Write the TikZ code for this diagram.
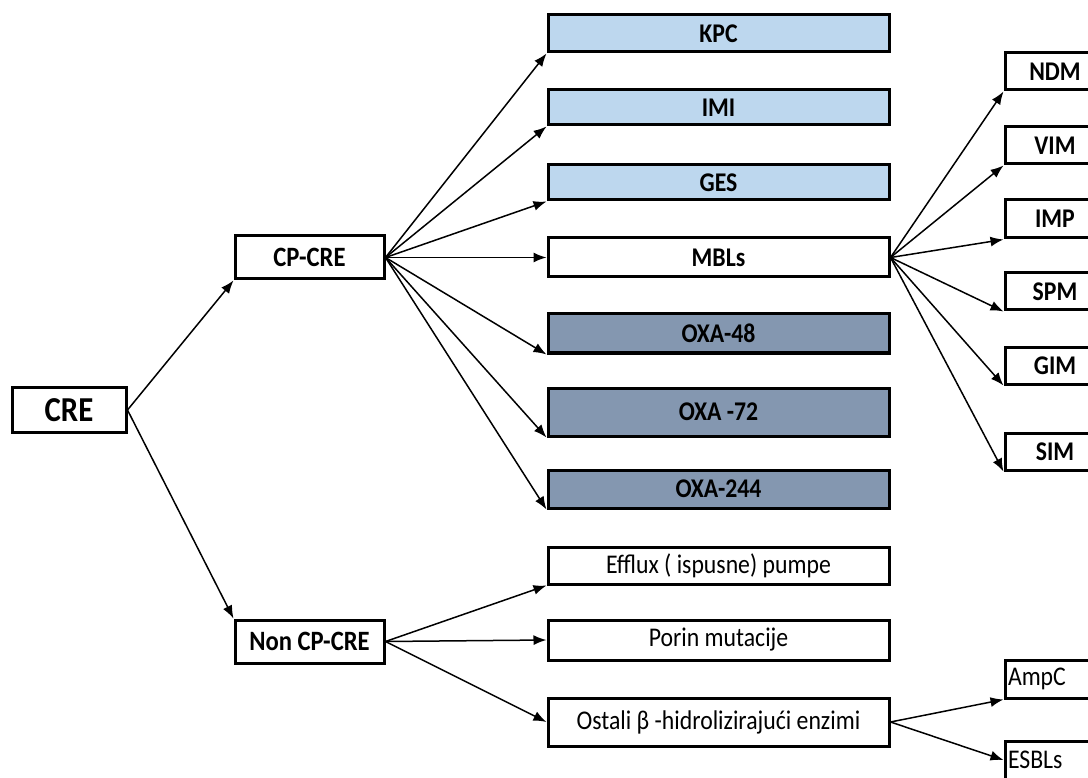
\documentclass[tikz,border=0pt]{standalone}
\usepackage{fontspec}
\setmainfont{Carlito}[FakeStretch=0.88]
\usetikzlibrary{arrows.meta}
\definecolor{lblue}{HTML}{BDD7EE}
\definecolor{dblue}{HTML}{8497B0}
\tikzset{
  box/.style={draw=black, line width=3pt, fill=white, inner sep=0pt, font=\fontsize{27}{29}\selectfont},
  hbox/.style={box, font=\bfseries\fontsize{27}{29}\selectfont},
  mid/.style={minimum width=341pt},
  rgt/.style={minimum width=100pt},
  conn/.style={line width=1.5pt, -{Latex[length=13pt,width=10pt]}},
}
\begin{document}
\begin{tikzpicture}[x=1pt,y=-1pt]
\useasboundingbox (0,0) rectangle (1088,778);
\begin{scope}
\clip (0,0) rectangle (1088,778);
% left
\node[hbox, minimum width=114pt, minimum height=45pt, font=\bfseries\fontsize{35}{37}\selectfont] (cre) at (69,410) {CRE};
\node[hbox, minimum width=149pt, minimum height=43pt, font=\bfseries\fontsize{28}{30}\selectfont] (cp) at (309.5,257.5) {CP-CRE};
\node[hbox, minimum width=149pt, minimum height=43pt, font=\bfseries\fontsize{28}{30}\selectfont] (non) at (309.5,641.5) {Non CP-CRE};
% middle
\node[hbox, mid, fill=lblue, minimum height=37pt] (kpc) at (718.5,33.5) {KPC};
\node[hbox, mid, fill=lblue, minimum height=35pt] (imi) at (718.5,107.5) {IMI};
\node[hbox, mid, fill=lblue, minimum height=35pt] (ges) at (718.5,182.5) {GES};
\node[hbox, mid, minimum height=39pt] (mbl) at (718.5,257.5) {MBLs};
\node[hbox, mid, fill=dblue, minimum height=39pt] (oxa48) at (718.5,333.5) {OXA-48};
\node[hbox, mid, fill=dblue, minimum height=48pt] (oxa72) at (718.5,412) {OXA -72};
\node[hbox, mid, fill=dblue, minimum height=38pt] (oxa244) at (718.5,489) {OXA-244};
\node[box, mid, minimum height=37pt] (eff) at (718.5,565.5) {Efflux ( ispusne) pumpe};
\node[box, mid, minimum height=40pt] (por) at (718.5,640) {Porin mutacije};
\node[box, mid, minimum height=48pt] (ost) at (718.5,722) {Ostali β -hidrolizirajući enzimi};
% right
\node[hbox, rgt, minimum height=37pt] (ndm) at (1055,71.5) {NDM};
\node[hbox, rgt, minimum height=37pt] (vim) at (1055,145.5) {VIM};
\node[hbox, rgt, minimum height=38pt] (imp) at (1055,219) {IMP};
\node[hbox, rgt, minimum height=37pt] (spm) at (1055,291.5) {SPM};
\node[hbox, rgt, minimum height=36pt] (gim) at (1055,366) {GIM};
\node[hbox, rgt, minimum height=37pt] (sim) at (1055,451.5) {SIM};
\node[box, rgt, minimum height=38pt, align=left, text width=94pt] (ampc) at (1055,679) {AmpC};
\node[box, rgt, minimum height=38pt, align=left, text width=94pt] (esbl) at (1055,760) {ESBLs};
\end{scope}
% connectors
\draw[conn] (cre.east) -- (cp.south west);
\draw[conn] (cre.east) -- (non.north west);
\foreach \t in {kpc,imi,ges,oxa48,oxa72,oxa244}
  \draw[conn] (cp.east) -- (\t.south west);
\draw[conn] (cp.east) -- (mbl.west);
\foreach \t in {ndm,vim,imp,spm,gim,sim}
  \draw[conn] (mbl.east) -- (\t.south west);
\draw[conn] (non.east) -- (eff.south west);
\draw[conn] (non.east) -- (por.west);
\draw[conn] (non.east) -- (ost.west);
\draw[conn] (ost.east) -- (ampc.south west);
\draw[conn] (ost.east) -- (esbl.west);
\end{tikzpicture}
\end{document}
